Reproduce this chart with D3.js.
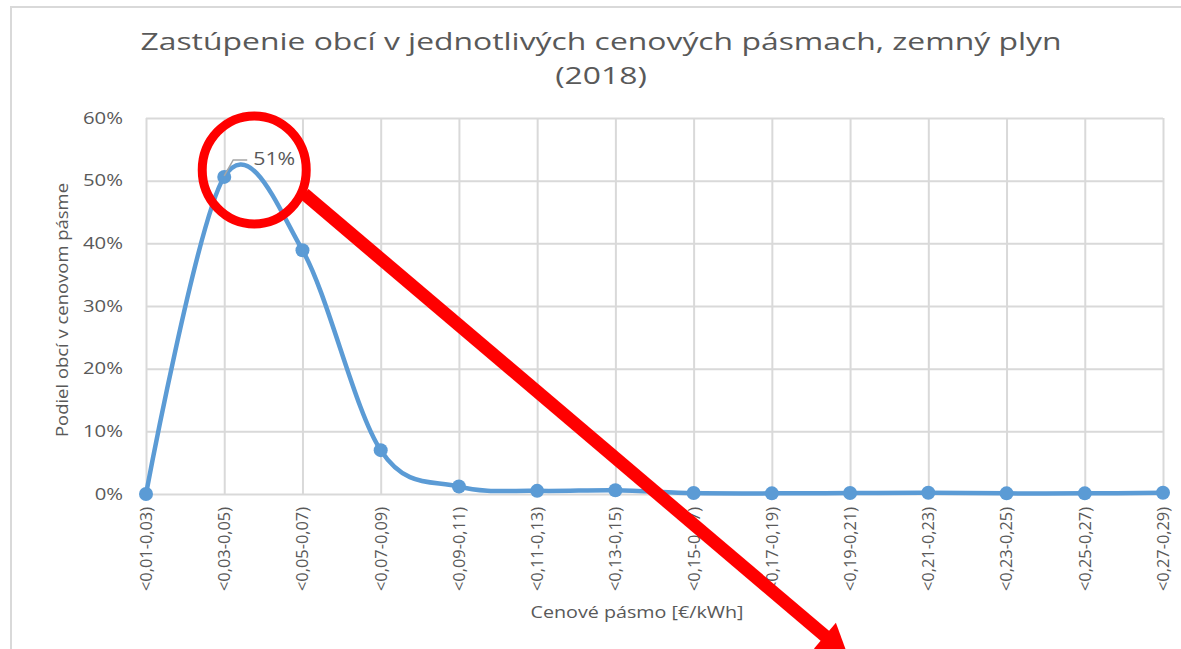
<!DOCTYPE html>
<html>
<head>
<meta charset="utf-8">
<script src="https://cdn.jsdelivr.net/npm/d3@7"></script>
<style>
  body { margin: 0; background: #fff; }
  svg { display: block; }
  text { font-family: "Open Sans", "DejaVu Sans", sans-serif; fill: #595959; }
</style>
</head>
<body>
<div id="chart"></div>
<script>

// price bands (€/kWh)
const categories = [
  "<0,01-0,03)", "<0,03-0,05)", "<0,05-0,07)", "<0,07-0,09)", "<0,09-0,11)",
  "<0,11-0,13)", "<0,13-0,15)", "<0,15-0,17)", "<0,17-0,19)", "<0,19-0,21)",
  "<0,21-0,23)", "<0,23-0,25)", "<0,25-0,27)", "<0,27-0,29)"
];

// share of municipalities in band, percent
const shares = [0, 50.6, 38.9, 7.0, 1.2, 0.5, 0.6, 0.15, 0.1, 0.15, 0.2, 0.1, 0.1, 0.2];

const yTicks = [0, 10, 20, 30, 40, 50, 60];

const titleLines = ["Zastúpenie obcí v jednotlivých cenových pásmach, zemný plyn", "(2018)"];
const xTitle = "Cenové pásmo [€/kWh]";
const yTitle = "Podiel obcí v cenovom pásme";

// only the peak carries a label
const labelIndex = 1;
const labelText = "51%";

const W = 1181, H = 649;
const margin = { top: 118, right: 18, bottom: 155, left: 146 };
const width = W - margin.left - margin.right,
  height = H - margin.top - margin.bottom;

// the source picture has wide, stretched glyphs: stretch text so that the
// reference element (first one by default) gets a measured width
function stretchTo(sel, px, refNode) {
  const k = px / (refNode || sel.node()).getComputedTextLength();
  sel.each(function () {
    d3.select(this)
      .attr("textLength", this.getComputedTextLength() * k)
      .attr("lengthAdjust", "spacingAndGlyphs");
  });
}

const svg = d3.select("#chart").append("svg")
  .attr("width", W)
  .attr("height", H);

// chart frame (bottom/right run off the picture)
svg.append("rect")
  .attr("x", 11).attr("y", 7)
  .attr("width", 1200).attr("height", 700)
  .attr("fill", "none")
  .attr("stroke", "#d9d9d9")
  .attr("stroke-width", 2);

const g = svg.append("g")
  .attr("transform", "translate(" + margin.left + "," + margin.top + ")");

var x = d3.scalePoint().domain(categories).range([0, width]);
var y = d3.scaleLinear().domain([0, 60]).range([height, 0]);

// horizontal gridlines
g.append("g")
  .attr("class", "grid")
  .call(d3.axisLeft(y).tickValues(yTicks).tickSize(-width).tickFormat(""))
  .call(s => s.select(".domain").remove())
  .call(s => s.selectAll("line").attr("stroke", "#d9d9d9").attr("stroke-width", 2));

// vertical gridlines
g.append("g")
  .attr("class", "grid")
  .call(d3.axisBottom(x).tickSize(height).tickFormat(""))
  .call(s => s.select(".domain").remove())
  .call(s => s.selectAll("line").attr("stroke", "#d9d9d9").attr("stroke-width", 2));

// y axis labels
const yLabels = g.append("g")
  .call(d3.axisLeft(y).tickValues(yTicks).tickSize(0).tickFormat(d => d + "%"))
  .call(s => s.select(".domain").remove())
  .selectAll("text")
  .attr("x", -23)
  .style("font-size", "16.5px")
  .style("font-family", "\"Open Sans\", sans-serif")
  .attr("fill", "#595959");
stretchTo(yLabels, 40, yLabels.filter(d => d === 60).node());

// x axis labels, rotated
const xLabels = g.append("g")
  .attr("transform", "translate(0," + height + ")")
  .call(d3.axisBottom(x).tickSize(0).tickPadding(0))
  .call(s => s.select(".domain").remove())
  .selectAll("text")
  .style("font-size", "15.5px")
  .style("font-family", "\"Open Sans\", sans-serif")
  .attr("fill", "#595959")
  .style("text-anchor", "end")
  .attr("dx", "-13px")
  .attr("dy", "0.35em")
  .attr("y", 0)
  .attr("transform", "rotate(-90)");
stretchTo(xLabels, 84);

// series line
const line = d3.line()
  .x((d, i) => x(categories[i]))
  .y(d => y(d))
  .curve(d3.curveCatmullRom.alpha(0));

g.append("path")
  .datum(shares)
  .attr("fill", "none")
  .attr("stroke", "#5b9bd5")
  .attr("stroke-width", 4.5)
  .attr("d", line);

g.selectAll(".dot")
  .data(shares)
  .enter().append("circle")
  .attr("cx", (d, i) => x(categories[i]))
  .attr("cy", d => y(d))
  .attr("r", 7)
  .attr("fill", "#5b9bd5");

// data label with leader line
const lx = x(categories[labelIndex]), ly = y(shares[labelIndex]);
g.append("path")
  .attr("d", "M" + (lx) + "," + (ly - 1) + " L" + (lx + 9) + "," + (ly - 17) + " L" + (lx + 23) + "," + (ly - 17))
  .attr("fill", "none")
  .attr("stroke", "#a6a6a6")
  .attr("stroke-width", 1.5);
g.append("text")
  .attr("x", lx + 29)
  .attr("y", ly - 12)
  .attr("textLength", 42)
  .attr("lengthAdjust", "spacingAndGlyphs")
  .style("font-size", "18px")
  .text(labelText);

// titles
const t1 = svg.append("text")
  .attr("x", 601)
  .attr("y", 50)
  .attr("text-anchor", "middle")
  .style("font-size", "24px")
  .text(titleLines[0]);
const t2 = svg.append("text")
  .attr("x", 601)
  .attr("y", 84)
  .attr("text-anchor", "middle")
  .style("font-size", "24px")
  .text(titleLines[1]);
const k1 = 921 / t1.node().getComputedTextLength();
stretchTo(t2, t2.node().getComputedTextLength() * k1);
stretchTo(t1, 921);

stretchTo(svg.append("text")
  .attr("x", 637)
  .attr("y", 618)
  .attr("text-anchor", "middle")
  .style("font-size", "17px")
  .text(xTitle), 213);

stretchTo(svg.append("text")
  .attr("transform", "translate(68," + (margin.top + height / 2 + 4) + ") rotate(-90)")
  .attr("text-anchor", "middle")
  .style("font-size", "17px")
  .text(yTitle), 254);

// red magnifier overlay around the peak
const ann = svg.append("g")
  .attr("transform", "translate(" + margin.left + "," + margin.top + ")");
const cx = lx + 30, cy = ly - 7;
ann.append("ellipse")
  .attr("cx", cx).attr("cy", cy)
  .attr("rx", 52).attr("ry", 54)
  .attr("fill", "none")
  .attr("stroke", "#ff0000")
  .attr("stroke-width", 9);

const ax0 = cx + 50, ay0 = cy + 24, ax1 = cx + 592, ay1 = cy + 484;
const ang = Math.atan2(ay1 - ay0, ax1 - ax0);
ann.append("line")
  .attr("x1", ax0).attr("y1", ay0)
  .attr("x2", ax1 - 20 * Math.cos(ang)).attr("y2", ay1 - 20 * Math.sin(ang))
  .attr("stroke", "#ff0000")
  .attr("stroke-width", 13);
ann.append("path")
  .attr("d", d3.line()([[0, -17], [30, 0], [0, 17]]) + "Z")
  .attr("transform", "translate(" + (ax1 - 28 * Math.cos(ang)) + "," + (ay1 - 28 * Math.sin(ang)) + ") rotate(" + (ang * 180 / Math.PI) + ")")
  .attr("fill", "#ff0000");

</script>
</body>
</html>
